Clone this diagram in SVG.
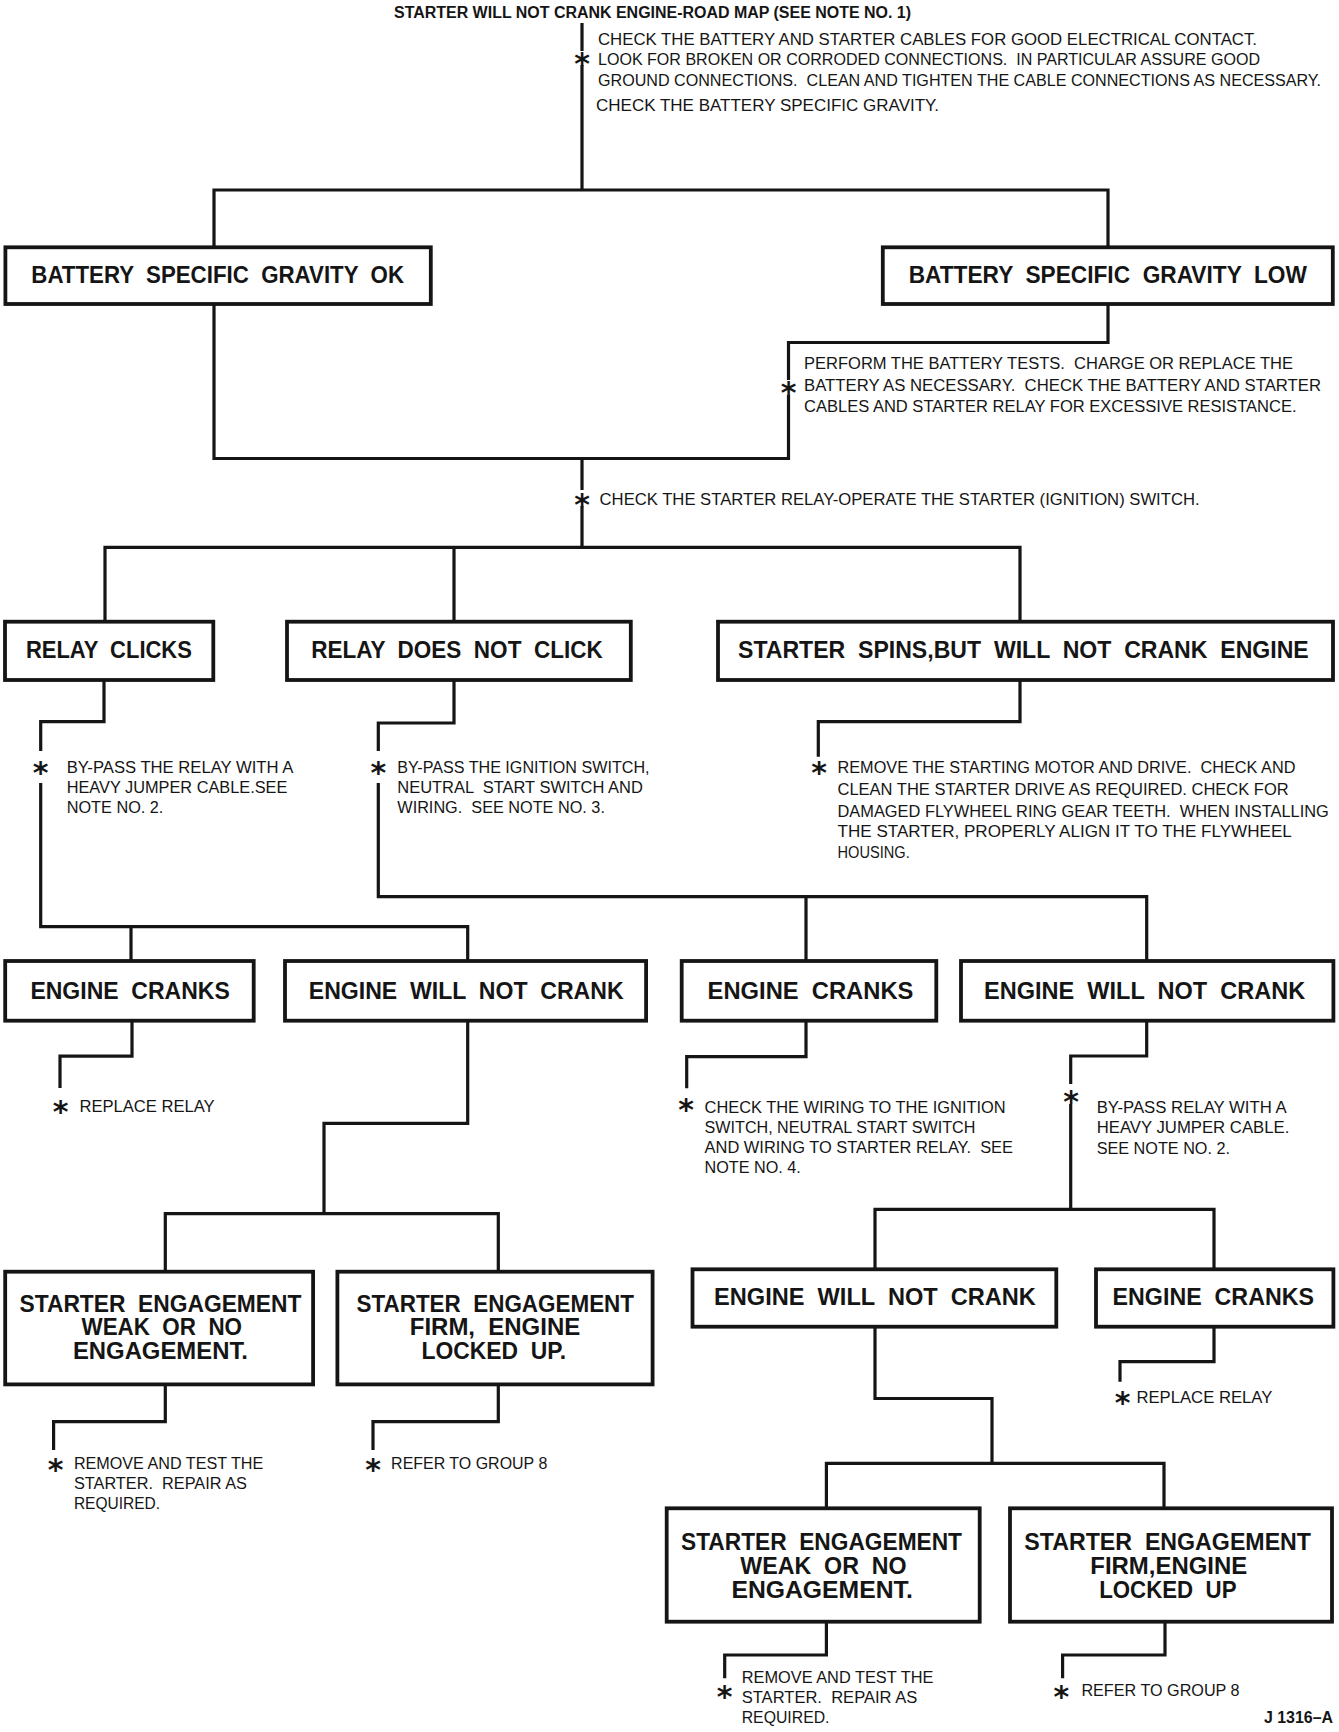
<svg xmlns="http://www.w3.org/2000/svg" width="1339" height="1732" viewBox="0 0 1339 1732">
<style>
.ln{fill:none;stroke:#151515;stroke-width:3.2;stroke-linejoin:miter}
.bx{fill:#fff;stroke:#151515;stroke-width:3.8}
.bt{font-family:"Liberation Sans",Arial,sans-serif;font-weight:bold;font-size:23px;fill:#151515;white-space:pre}
.nt{font-family:"Liberation Sans",Arial,sans-serif;font-size:16px;fill:#151515;white-space:pre}
.ti{font-family:"Liberation Sans",Arial,sans-serif;font-weight:bold;font-size:16px;fill:#151515}
.ast{font-family:"DejaVu Sans",sans-serif;font-weight:bold;font-size:30px;fill:#151515;text-anchor:middle}
</style>
<rect x="0" y="0" width="1339" height="1732" fill="#fff"/>

<g id="connectors">
<path class="ln" d="M582,23 V51 M582,65 V190"/>
<path class="ln" d="M214,247 V190 H1108 V247"/>
<path class="ln" d="M1108,304 V342.5 H788.5 V380 M788.5,395 V458.5 H214 V304"/>
<path class="ln" d="M582,458.5 V490 M582,506 V547.3"/>
<path class="ln" d="M105,621.7 V547.3 H1020 V621.7 M454,547.3 V621.7"/>
<path class="ln" d="M104,680 V721.7 H40.7 V751 M40.7,783 V926.7 H467.7 V961 M131,926.7 V961"/>
<path class="ln" d="M454,680 V723 H378.3 V751 M378.3,783 V896.7 H1146.7 V961 M806,896.7 V961"/>
<path class="ln" d="M1020,680 V721.7 H818.3 V756.7"/>
<path class="ln" d="M132,1020.7 V1056.2 H60 V1088"/>
<path class="ln" d="M467.7,1020.7 V1123.3 H324 V1213.7 M165.3,1271.7 V1213.7 H498.3 V1271.7"/>
<path class="ln" d="M165.3,1384.4 V1421.7 H53.6 V1450"/>
<path class="ln" d="M498.3,1384.4 V1421.7 H373 V1450"/>
<path class="ln" d="M806,1020.7 V1056.7 H686.7 V1088.3"/>
<path class="ln" d="M1146.7,1020.7 V1056 H1070.7 V1084 M1070.7,1104 V1209.3 M875,1269.3 V1209.3 H1214 V1269.3"/>
<path class="ln" d="M1214,1326.7 V1361.7 H1120 V1381.7"/>
<path class="ln" d="M875,1326.7 V1398.5 H992 V1463.3 M826.4,1508.3 V1463.3 H1164 V1508.3"/>
<path class="ln" d="M826.4,1621.7 V1655 H724.7 V1678.3"/>
<path class="ln" d="M1165,1621.7 V1655 H1062.6 V1678.3"/>
</g>

<g id="title">
<text class="ti" x="394" y="18.3" textLength="517" lengthAdjust="spacingAndGlyphs">STARTER WILL NOT CRANK ENGINE-ROAD MAP (SEE NOTE NO. 1)</text>
</g>

<g id="note-check-cables">
<text class="ast" x="582" y="74.4">*</text>
<text class="nt" x="598" y="45" textLength="659" lengthAdjust="spacingAndGlyphs">CHECK THE BATTERY AND STARTER CABLES FOR GOOD ELECTRICAL CONTACT.</text>
<text class="nt" x="598" y="65" textLength="662" lengthAdjust="spacingAndGlyphs">LOOK FOR BROKEN OR CORRODED CONNECTIONS.  IN PARTICULAR ASSURE GOOD</text>
<text class="nt" x="598" y="86" textLength="723" lengthAdjust="spacingAndGlyphs">GROUND CONNECTIONS.  CLEAN AND TIGHTEN THE CABLE CONNECTIONS AS NECESSARY.</text>
<text class="nt" x="596" y="111" textLength="343" lengthAdjust="spacingAndGlyphs">CHECK THE BATTERY SPECIFIC GRAVITY.</text>
</g>

<g id="node-gravity-ok">
<rect class="bx" x="5.4" y="247.3" width="425.4" height="56.7"/>
<text class="bt" x="31.3" y="283.3" textLength="372.7" lengthAdjust="spacingAndGlyphs">BATTERY  SPECIFIC  GRAVITY  OK</text>
</g>
<g id="node-gravity-low">
<rect class="bx" x="882.8" y="247.3" width="450" height="56.7"/>
<text class="bt" x="908.7" y="283.3" textLength="398.2" lengthAdjust="spacingAndGlyphs">BATTERY  SPECIFIC  GRAVITY  LOW</text>
</g>

<g id="note-battery-tests">
<text class="ast" x="788.5" y="403.4">*</text>
<text class="nt" x="804" y="369.3" textLength="489" lengthAdjust="spacingAndGlyphs">PERFORM THE BATTERY TESTS.  CHARGE OR REPLACE THE</text>
<text class="nt" x="804" y="391.2" textLength="517" lengthAdjust="spacingAndGlyphs">BATTERY AS NECESSARY.  CHECK THE BATTERY AND STARTER</text>
<text class="nt" x="804" y="411.7" textLength="492.5" lengthAdjust="spacingAndGlyphs">CABLES AND STARTER RELAY FOR EXCESSIVE RESISTANCE.</text>
</g>

<g id="note-check-relay">
<text class="ast" x="582" y="514.9">*</text>
<text class="nt" x="599.6" y="505" textLength="600" lengthAdjust="spacingAndGlyphs">CHECK THE STARTER RELAY-OPERATE THE STARTER (IGNITION) SWITCH.</text>
</g>

<g id="node-relay-clicks">
<rect class="bx" x="5" y="621.7" width="208.3" height="58.3"/>
<text class="bt" x="25.9" y="658.3" textLength="166" lengthAdjust="spacingAndGlyphs">RELAY  CLICKS</text>
</g>
<g id="node-relay-no-click">
<rect class="bx" x="287" y="621.7" width="343.8" height="58.3"/>
<text class="bt" x="311.2" y="658.3" textLength="291.5" lengthAdjust="spacingAndGlyphs">RELAY  DOES  NOT  CLICK</text>
</g>
<g id="node-starter-spins">
<rect class="bx" x="718" y="621.7" width="615" height="58.3"/>
<text class="bt" x="738" y="658.3" textLength="570.7" lengthAdjust="spacingAndGlyphs">STARTER  SPINS,BUT  WILL  NOT  CRANK  ENGINE</text>
</g>

<g id="note-bypass-relay-1">
<text class="ast" x="40.7" y="782.9">*</text>
<text class="nt" x="66.7" y="772.7" textLength="226.7" lengthAdjust="spacingAndGlyphs">BY-PASS THE RELAY WITH A</text>
<text class="nt" x="66.7" y="792.7" textLength="220.7" lengthAdjust="spacingAndGlyphs">HEAVY JUMPER CABLE.SEE</text>
<text class="nt" x="66.7" y="812.7" textLength="96.7" lengthAdjust="spacingAndGlyphs">NOTE NO. 2.</text>
</g>
<g id="note-bypass-ignition">
<text class="ast" x="378.3" y="782.9">*</text>
<text class="nt" x="397.3" y="772.7" textLength="252.2" lengthAdjust="spacingAndGlyphs">BY-PASS THE IGNITION SWITCH,</text>
<text class="nt" x="397.3" y="792.7" textLength="245.5" lengthAdjust="spacingAndGlyphs">NEUTRAL  START SWITCH AND</text>
<text class="nt" x="397.3" y="812.7" textLength="207.6" lengthAdjust="spacingAndGlyphs">WIRING.  SEE NOTE NO. 3.</text>
</g>
<g id="note-remove-motor">
<text class="ast" x="819" y="783.4">*</text>
<text class="nt" x="837.5" y="773.3" textLength="457.9" lengthAdjust="spacingAndGlyphs">REMOVE THE STARTING MOTOR AND DRIVE.  CHECK AND</text>
<text class="nt" x="837.5" y="795" textLength="451.2" lengthAdjust="spacingAndGlyphs">CLEAN THE STARTER DRIVE AS REQUIRED. CHECK FOR</text>
<text class="nt" x="837.5" y="816.7" textLength="491.3" lengthAdjust="spacingAndGlyphs">DAMAGED FLYWHEEL RING GEAR TEETH.  WHEN INSTALLING</text>
<text class="nt" x="837.5" y="837.3" textLength="454.3" lengthAdjust="spacingAndGlyphs">THE STARTER, PROPERLY ALIGN IT TO THE FLYWHEEL</text>
<text class="nt" x="837.5" y="858.3" textLength="72.2" lengthAdjust="spacingAndGlyphs">HOUSING.</text>
</g>

<g id="node-engine-cranks-1">
<rect class="bx" x="5.2" y="961" width="248.5" height="59.7"/>
<text class="bt" x="30.4" y="999" textLength="199.4" lengthAdjust="spacingAndGlyphs">ENGINE  CRANKS</text>
</g>
<g id="node-engine-not-crank-1">
<rect class="bx" x="285" y="961" width="361.1" height="59.7"/>
<text class="bt" x="308.8" y="999" textLength="314.8" lengthAdjust="spacingAndGlyphs">ENGINE  WILL  NOT  CRANK</text>
</g>
<g id="node-engine-cranks-2">
<rect class="bx" x="681.7" y="961" width="254.6" height="59.7"/>
<text class="bt" x="707.6" y="999" textLength="205.8" lengthAdjust="spacingAndGlyphs">ENGINE  CRANKS</text>
</g>
<g id="node-engine-not-crank-2">
<rect class="bx" x="961" y="961" width="372.4" height="59.7"/>
<text class="bt" x="984" y="999" textLength="321.3" lengthAdjust="spacingAndGlyphs">ENGINE  WILL  NOT  CRANK</text>
</g>

<g id="note-replace-relay-1">
<text class="ast" x="60.7" y="1122.4">*</text>
<text class="nt" x="79.4" y="1111.5" textLength="135.3" lengthAdjust="spacingAndGlyphs">REPLACE RELAY</text>
</g>
<g id="note-check-wiring">
<text class="ast" x="686" y="1120.1">*</text>
<text class="nt" x="704.6" y="1112.7" textLength="301" lengthAdjust="spacingAndGlyphs">CHECK THE WIRING TO THE IGNITION</text>
<text class="nt" x="704.6" y="1132.7" textLength="270.7" lengthAdjust="spacingAndGlyphs">SWITCH, NEUTRAL START SWITCH</text>
<text class="nt" x="704.6" y="1152.7" textLength="308.4" lengthAdjust="spacingAndGlyphs">AND WIRING TO STARTER RELAY.  SEE</text>
<text class="nt" x="704.6" y="1173.3" textLength="96.2" lengthAdjust="spacingAndGlyphs">NOTE NO. 4.</text>
</g>
<g id="note-bypass-relay-2">
<text class="ast" x="1071" y="1111.9">*</text>
<text class="nt" x="1096.7" y="1112.7" textLength="190" lengthAdjust="spacingAndGlyphs">BY-PASS RELAY WITH A</text>
<text class="nt" x="1096.7" y="1133.3" textLength="192.6" lengthAdjust="spacingAndGlyphs">HEAVY JUMPER CABLE.</text>
<text class="nt" x="1096.7" y="1154" textLength="133.3" lengthAdjust="spacingAndGlyphs">SEE NOTE NO. 2.</text>
</g>

<g id="node-engagement-weak-1">
<rect class="bx" x="5.2" y="1271.7" width="307.9" height="112.7"/>
<text class="bt" x="19.5" y="1312.4" textLength="281.9" lengthAdjust="spacingAndGlyphs">STARTER  ENGAGEMENT</text>
<text class="bt" x="81.5" y="1335" textLength="160.5" lengthAdjust="spacingAndGlyphs">WEAK  OR  NO</text>
<text class="bt" x="72.9" y="1358.7" textLength="175.1" lengthAdjust="spacingAndGlyphs">ENGAGEMENT.</text>
</g>
<g id="node-engagement-firm-1">
<rect class="bx" x="337.4" y="1271.7" width="315.2" height="112.7"/>
<text class="bt" x="356.5" y="1312.4" textLength="277.5" lengthAdjust="spacingAndGlyphs">STARTER  ENGAGEMENT</text>
<text class="bt" x="409.8" y="1335" textLength="170.4" lengthAdjust="spacingAndGlyphs">FIRM,  ENGINE</text>
<text class="bt" x="421.5" y="1358.7" textLength="144.5" lengthAdjust="spacingAndGlyphs">LOCKED  UP.</text>
</g>
<g id="node-engine-not-crank-3">
<rect class="bx" x="692.5" y="1269.3" width="363.8" height="57.4"/>
<text class="bt" x="714.1" y="1305" textLength="321.8" lengthAdjust="spacingAndGlyphs">ENGINE  WILL  NOT  CRANK</text>
</g>
<g id="node-engine-cranks-3">
<rect class="bx" x="1096" y="1269.3" width="237.4" height="57.4"/>
<text class="bt" x="1112.6" y="1305" textLength="201.4" lengthAdjust="spacingAndGlyphs">ENGINE  CRANKS</text>
</g>

<g id="note-replace-relay-2">
<text class="ast" x="1122.5" y="1413.4">*</text>
<text class="nt" x="1136.4" y="1402.5" textLength="136" lengthAdjust="spacingAndGlyphs">REPLACE RELAY</text>
</g>
<g id="note-remove-test-1">
<text class="ast" x="55.5" y="1480.1">*</text>
<text class="nt" x="73.9" y="1469.3" textLength="189.4" lengthAdjust="spacingAndGlyphs">REMOVE AND TEST THE</text>
<text class="nt" x="73.9" y="1489.3" textLength="173" lengthAdjust="spacingAndGlyphs">STARTER.  REPAIR AS</text>
<text class="nt" x="73.9" y="1509.3" textLength="86.1" lengthAdjust="spacingAndGlyphs">REQUIRED.</text>
</g>
<g id="note-refer-group-1">
<text class="ast" x="373" y="1480.1">*</text>
<text class="nt" x="391.1" y="1469.3" textLength="156.2" lengthAdjust="spacingAndGlyphs">REFER TO GROUP 8</text>
</g>

<g id="node-engagement-weak-2">
<rect class="bx" x="666.7" y="1508.3" width="313" height="113.4"/>
<text class="bt" x="681" y="1550" textLength="281" lengthAdjust="spacingAndGlyphs">STARTER  ENGAGEMENT</text>
<text class="bt" x="740.3" y="1574" textLength="166.3" lengthAdjust="spacingAndGlyphs">WEAK  OR  NO</text>
<text class="bt" x="731.4" y="1598.3" textLength="181.4" lengthAdjust="spacingAndGlyphs">ENGAGEMENT.</text>
</g>
<g id="node-engagement-firm-2">
<rect class="bx" x="1010" y="1508.3" width="322" height="113.4"/>
<text class="bt" x="1024.3" y="1550" textLength="286.7" lengthAdjust="spacingAndGlyphs">STARTER  ENGAGEMENT</text>
<text class="bt" x="1090.3" y="1574" textLength="156.9" lengthAdjust="spacingAndGlyphs">FIRM,ENGINE</text>
<text class="bt" x="1099.2" y="1598.3" textLength="137.3" lengthAdjust="spacingAndGlyphs">LOCKED  UP</text>
</g>

<g id="note-remove-test-2">
<text class="ast" x="724.7" y="1706.8">*</text>
<text class="nt" x="741.7" y="1682.7" textLength="191.7" lengthAdjust="spacingAndGlyphs">REMOVE AND TEST THE</text>
<text class="nt" x="741.7" y="1702.7" textLength="175.6" lengthAdjust="spacingAndGlyphs">STARTER.  REPAIR AS</text>
<text class="nt" x="741.7" y="1722.7" textLength="87.8" lengthAdjust="spacingAndGlyphs">REQUIRED.</text>
</g>
<g id="note-refer-group-2">
<text class="ast" x="1061.3" y="1706.8">*</text>
<text class="nt" x="1081.4" y="1696" textLength="158.2" lengthAdjust="spacingAndGlyphs">REFER TO GROUP 8</text>
</g>

<g id="figure-id">
<text class="ti" x="1264" y="1723.3" textLength="69" lengthAdjust="spacingAndGlyphs">J 1316–A</text>
</g>
</svg>
